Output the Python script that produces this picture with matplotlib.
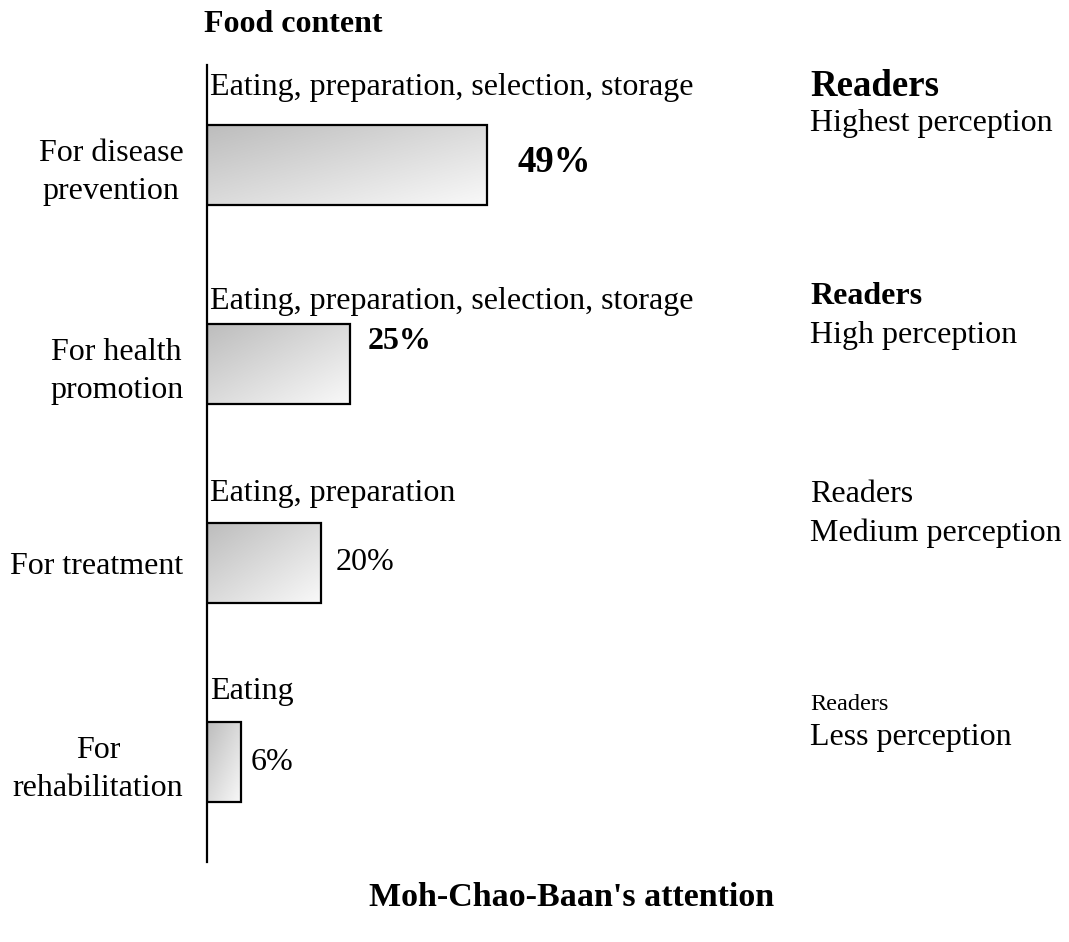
import matplotlib
matplotlib.use('Agg')
import matplotlib.pyplot as plt
import numpy as np
from matplotlib.transforms import offset_copy
from matplotlib.colors import LinearSegmentedColormap

plt.rcParams['font.family'] = ['Liberation Serif', 'DejaVu Serif']

# ---- data ----
categories = ["For disease\nprevention", "For health\npromotion", "For treatment", "For\nrehabilitation"]
values = [49, 25, 20, 6]
value_labels = ["49%", "25%", "20%", "6%"]
content_labels = ["Eating, preparation, selection, storage",
                  "Eating, preparation, selection, storage",
                  "Eating, preparation",
                  "Eating"]
reader_labels = ["Readers", "Readers", "Readers", "Readers"]
perception_labels = ["Highest perception", "High perception", "Medium perception", "Less perception"]
title_top = "Food content"
title_bottom = "Moh-Chao-Baan's attention"

# ---- styles ----
value_styles = [dict(size=26.5, weight='bold'), dict(size=23, weight='bold'),
                dict(size=23, weight='normal'), dict(size=23, weight='normal')]
value_offsets = [(30, 2), (18, 22), (14, 0), (9, 0)]           # px (right, up)
content_offsets = [30, 15, 22, 23]                               # baseline px above bar top
reader_styles = [dict(size=26.5, weight='bold'), dict(size=23, weight='bold'),
                 dict(size=23, weight='normal'), dict(size=17.5, weight='normal')]
reader_dy = [78, 67, 68, 58]
percep_dy = [41, 28, 30, 24]

W, H = 1069, 942
fig = plt.figure(figsize=(W / 100, H / 100), dpi=100)
ax_left, ax_bottom, ax_top = 207, 861.5, 65.5
ax = fig.add_axes([ax_left / W, (H - ax_bottom) / H, (W - ax_left) / W, (ax_bottom - ax_top) / H])
px_per_pct = 5.72
xmax = (W - ax_left) / px_per_pct
bar_h = 0.40

pos = np.arange(len(categories))
bars = ax.barh(pos, values, height=bar_h, left=0, facecolor='none',
               edgecolor='black', linewidth=1.6, zorder=3)

cmap = LinearSegmentedColormap.from_list('g', ['#bdbdbd', '#f9f9f9'])
gx, gy = np.meshgrid(np.linspace(0, 1, 200), np.linspace(0, 1, 60))
grad = (gx + gy) / 2
for i, (b, v) in enumerate(zip(bars, values)):
    im = ax.imshow(grad, cmap=cmap, vmin=0, vmax=1, origin='upper',
                   extent=(0, v, i + bar_h / 2, i - bar_h / 2), aspect='auto', zorder=2,
                   interpolation='bilinear')
    im.set_clip_path(b)

ax.set_xlim(0, xmax)
ax.set_ylim(len(categories) - 0.5, -0.5)
ax.set_aspect('auto')

for s in ['top', 'right', 'bottom']:
    ax.spines[s].set_visible(False)
ax.spines['left'].set_linewidth(1.6)
ax.set_xticks([])
ax.set_yticks(pos)
ax.set_yticklabels(categories, fontsize=23)
ax.tick_params(axis='y', length=0, pad=17)
for lbl in ax.get_yticklabels():
    lbl.set_multialignment('center')
    lbl.set_linespacing(1.38)

# value labels
for i, v in enumerate(values):
    dx, dy = value_offsets[i]
    tr = offset_copy(ax.transData, fig=fig, x=dx, y=dy, units='dots')
    ax.text(v, i, value_labels[i], transform=tr, ha='left', va='center', **value_styles[i])

# content labels above bars
for i in range(len(values)):
    tr = offset_copy(ax.transData, fig=fig, x=3, y=content_offsets[i], units='dots')
    ax.text(0, i - bar_h / 2, content_labels[i], transform=tr, ha='left', va='baseline', fontsize=23)

# readers / perception labels
xa = (810 - ax_left) / (W - ax_left)
for i in range(len(values)):
    trR = offset_copy(ax.get_yaxis_transform(), fig=fig, x=0, y=reader_dy[i], units='dots')
    trP = offset_copy(ax.get_yaxis_transform(), fig=fig, x=0, y=percep_dy[i], units='dots')
    ax.text(xa, i, reader_labels[i], transform=trR, ha='left', va='center', **reader_styles[i])
    ax.text(xa, i, perception_labels[i], transform=trP, ha='left', va='center', fontsize=23)

fig.text(293 / W, 1 - 25 / H, title_top, ha='center', va='center', fontsize=23, weight='bold')
fig.text(572 / W, 1 - 898 / H, title_bottom, ha='center', va='center', fontsize=24.5, weight='bold')

fig.savefig('out.png', dpi=100)
